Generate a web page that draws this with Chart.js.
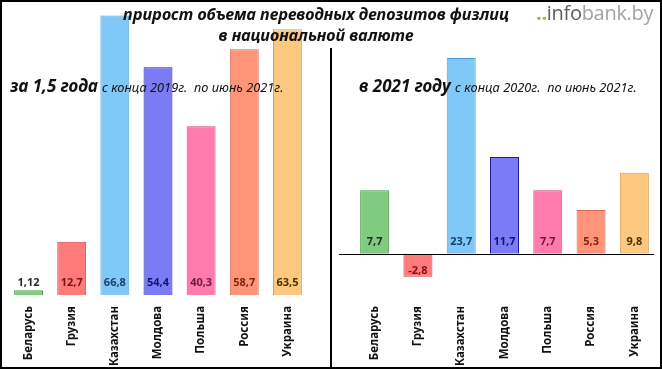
<!DOCTYPE html>
<html>
<head>
    <meta charset="utf-8">
    <title>прирост объема переводных депозитов физлиц</title>
    <style>
        html, body {
            margin: 0;
            padding: 0;
            background: #fff;
        }

        .frame {
            position: relative;
            width: 662px;
            height: 369px;
            box-sizing: border-box;
            border: 2px solid #000;
            overflow: hidden;
            font-family: "Noto Sans", sans-serif;
        }

        .chart {
            position: absolute;
            top: -2px;
            width: 330px;
            height: 369px;
        }

        .divider {
            position: absolute;
            left: 328px;
            top: 46px;
            width: 2px;
            height: 330px;
            background: #000;
        }

        .title {
            position: absolute;
            left: 100px;
            top: 2px;
            width: 428px;
            text-align: center;
            font-weight: bold;
            font-style: italic;
            font-size: 16.2px;
            line-height: 21px;
            color: #111;
        }

        .sub {
            position: absolute;
            top: 72px;
            white-space: nowrap;
            font-style: italic;
            color: #111;
        }

        .sub b {
            font-size: 17px;
        }

        .sub span {
            font-size: 12.8px;
        }

        .logo {
            position: absolute;
            right: -2px;
            top: -2px;
            width: 126px;
            height: 28px;
            background: #fff;
            font-family: "Open Sans", sans-serif;
            font-size: 20px;
            line-height: 26px;
            color: #a3a3a3;
            letter-spacing: -0.3px;
        }

        .logo .dots {
            color: #8dc63f;
            font-weight: bold;
        }

        .logo .info {
            color: #5e5e5e;
        }
    </style>
</head>

<body>
    <div class="frame">
        <div class="chart" style="left: -2px;"><canvas id="chart15"></canvas></div>
        <div class="chart" style="left: 330px;"><canvas id="chart2021"></canvas></div>
        <div class="divider"></div>
        <div class="title">прирост объема переводных депозитов физлиц<br>в национальной валюте</div>
        <div class="sub" style="left: 8px;"><b>за 1,5 года</b> <span>с конца 2019г.&nbsp; по июнь 2021г.</span></div>
        <div class="sub" style="left: 357px;"><b>в 2021 году</b> <span>с конца 2020г.&nbsp; по июнь 2021г.</span></div>
        <div class="logo"><span class="dots">..</span><span class="info">info</span>bank.by</div>
    </div>

    <script src="https://cdn.jsdelivr.net/npm/chart.js"></script>
    <script>
        var countries = ['Беларусь', 'Грузия', 'Казахстан', 'Молдова', 'Польша', 'Россия', 'Украина'];
        var growth15 = [1.12, 12.7, 66.8, 54.4, 40.3, 58.7, 63.5];
        var growth2021 = [7.7, -2.8, 23.7, 11.7, 7.7, 5.3, 9.8];

        var fillColors = ['#7fcb7f', '#ff7b7b', '#7fc8f8', '#7b7bf6', '#ff7bae', '#ff9478', '#fcc77e'];
        var borderColors = ['#4e9a4e', '#d04545', '#4b9fd6', '#1e1e9c', '#d04b80', '#d26a52', '#d9a052'];
        var labelColors = ['#2a2a2a', '#7a1515', '#1d3f66', '#141470', '#6e1640', '#7a2512', '#4a3000'];

        // подписи значений у основания столбцов + нулевая линия
        var valueLabels = {
            id: 'valueLabels',
            afterDatasetsDraw: function (chart, args, opts) {
                var ctx = chart.ctx;
                var y = chart.scales.y;
                var zero = y.getPixelForValue(0);
                var data = chart.data.datasets[0].data;
                ctx.save();
                if (opts.zeroLine) {
                    ctx.strokeStyle = '#000';
                    ctx.lineWidth = 1;
                    ctx.beginPath();
                    ctx.moveTo(chart.chartArea.left - 14, Math.round(zero) + 0.5);
                    ctx.lineTo(chart.chartArea.right - 2, Math.round(zero) + 0.5);
                    ctx.stroke();
                }
                ctx.font = 'bold 11px "Noto Sans"';
                ctx.textAlign = 'center';
                ctx.textBaseline = 'middle';
                chart.getDatasetMeta(0).data.forEach(function (bar, i) {
                    var v = data[i];
                    var ty = v >= 0 ? zero - 12 : bar.y - 6;
                    ctx.fillStyle = labelColors[i];
                    ctx.fillText(v.toLocaleString('ru-RU'), bar.x, ty);
                });
                ctx.restore();
            }
        };

        function makeChart(id, values, yMin, yMax, pad, zeroLine) {
            return new Chart(document.getElementById(id), {
                type: 'bar',
                data: {
                    labels: countries,
                    datasets: [{
                        data: values,
                        backgroundColor: fillColors,
                        borderColor: borderColors,
                        borderWidth: 1,
                        barPercentage: 0.67,
                        categoryPercentage: 1
                    }]
                },
                options: {
                    responsive: true,
                    maintainAspectRatio: false,
                    animation: false,
                    layout: { padding: pad },
                    plugins: {
                        legend: { display: false },
                        tooltip: { enabled: false },
                        valueLabels: { zeroLine: zeroLine }
                    },
                    scales: {
                        x: {
                            border: { display: false },
                            grid: { display: false, drawTicks: false },
                            ticks: {
                                maxRotation: 90,
                                minRotation: 90,
                                padding: 11,
                                color: '#111',
                                font: { family: 'Noto Sans', weight: 'bold', size: 11.5 }
                            },
                            afterFit: function (scale) { scale.height = 74; }
                        },
                        y: {
                            display: false,
                            min: yMin,
                            max: yMax
                        }
                    }
                },
                plugins: [valueLabels]
            });
        }

        makeChart('chart15', growth15, 0, 70, { left: 7, right: 21, top: 2, bottom: 0 }, false);
        makeChart('chart2021', growth2021, -5, 30, { left: 21, right: 6, top: 6, bottom: 0 }, true);
    </script>
</body>
</html>
